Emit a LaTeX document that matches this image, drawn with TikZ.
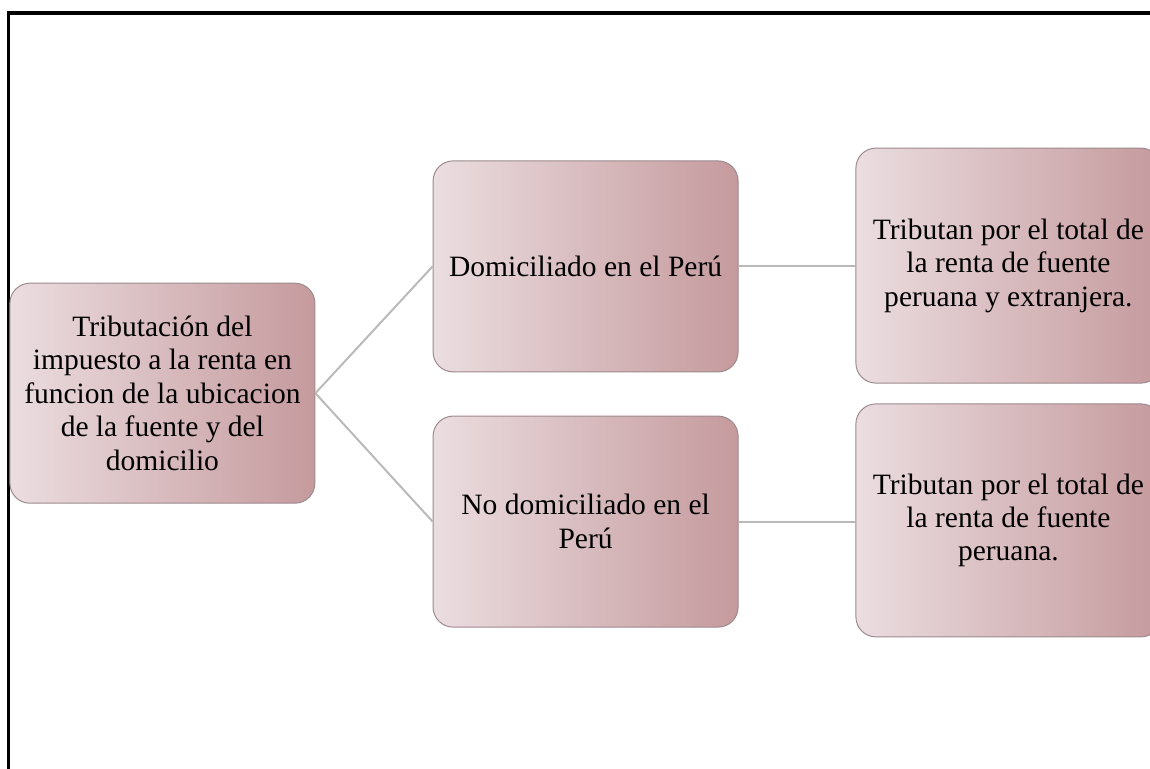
\documentclass[tikz,border=0pt]{standalone}
\usepackage{fontspec}
\setmainfont{Liberation Serif}
\usetikzlibrary{shapes}

\definecolor{boxLeft}{HTML}{EBDDE0}
\definecolor{boxRight}{HTML}{C59A9D}
\definecolor{boxEdge}{HTML}{9C8A8C}
\definecolor{linkGray}{HTML}{B9B9B9}

\begin{document}
\begin{tikzpicture}[font=\fontsize{21}{23.8}\selectfont]
	\tikzstyle{boxStyle}=[shape = rectangle, rounded corners = 0.5cm, draw = boxEdge, line width = 0.7pt, left color = boxLeft, right color = boxRight, minimum width = 7.625cm, align = center, inner sep = 0pt]
	\tikzstyle{linkStyle}=[draw = linkGray, line width = 1.4pt]
	\useasboundingbox (0,0) rectangle (28.75,-19.225);
	\draw[line width = 2.5pt] (0.2125,-19.4) -- (0.2125,-0.325) -- (29,-0.325);
	\node[boxStyle, minimum height = 5.5cm] (root) at (4.06,-9.83) {Tributación del\\impuesto a la renta en\\funcion de la ubicacion\\de la fuente y del\\domicilio};
	\node[boxStyle, minimum height = 5.275cm] (dom) at (14.64,-6.66) {Domiciliado en el Perú};
	\node[boxStyle, minimum height = 5.275cm] (nodom) at (14.64,-13.04) {No domiciliado en el\\Perú};
	\node[boxStyle, minimum height = 5.875cm] (domres) at (25.21,-6.64) {Tributan por el total de\\la renta de fuente\\peruana y extranjera.};
	\node[boxStyle, minimum height = 5.825cm] (nodomres) at (25.21,-13.01) {Tributan por el total de\\la renta de fuente\\peruana.};
	\draw[linkStyle] (root.east) -- (dom.west);
	\draw[linkStyle] (root.east) -- (nodom.west);
	\draw[linkStyle] (dom.east) -- (dom.east -| domres.west);
	\draw[linkStyle] (nodom.east) -- (nodom.east -| nodomres.west);
\end{tikzpicture}
\end{document}
